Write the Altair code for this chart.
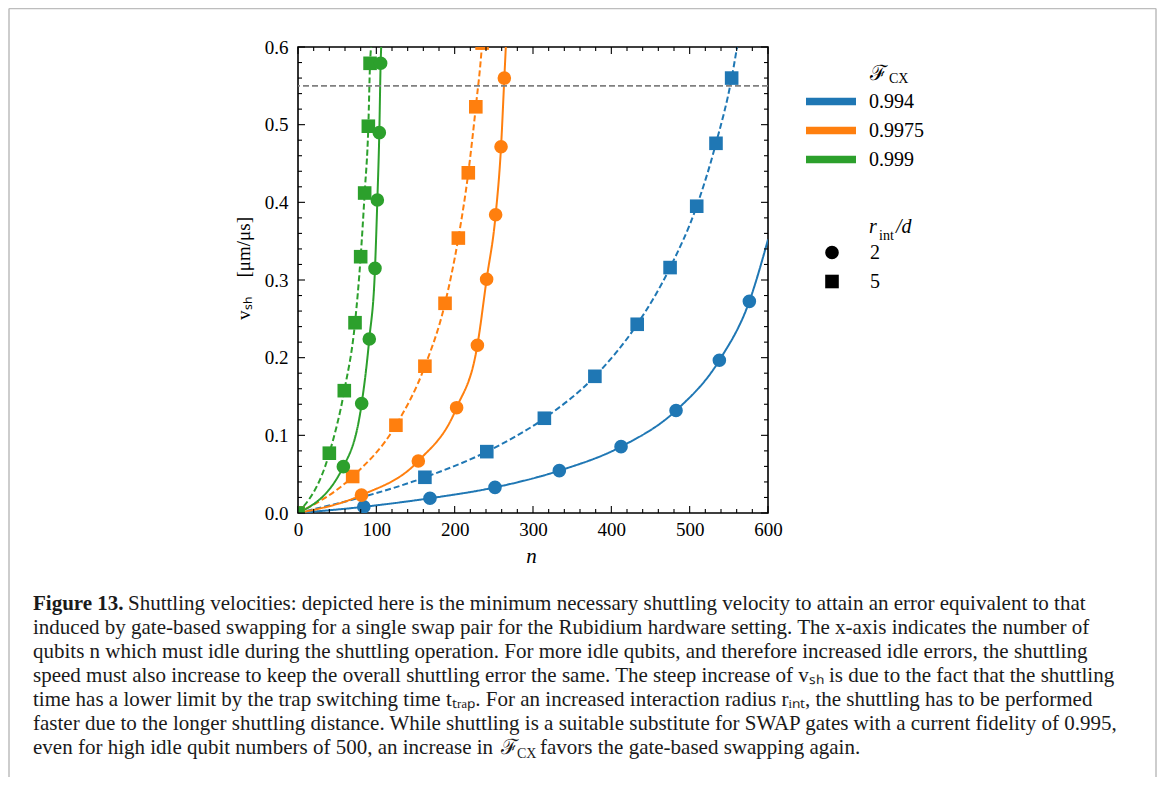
import altair as alt
import pandas as pd

# ---------------- data ----------------
fidelity_labels = ["0.994", "0.9975", "0.999"]
fidelity_colors = ["#1f77b4", "#ff7f0e", "#2ca02c"]
radius_labels = ["2", "5"]

# markers, r_int/d = 2 (circles)
blue_r2_n = [84, 168.5, 251.5, 333.6, 412.4, 482.6, 537.9, 576.2]
blue_r2_v = [0.008, 0.019, 0.033, 0.0545, 0.0854, 0.132, 0.1966, 0.2725]
orange_r2_n = [81, 153.6, 202.5, 229, 240.8, 252.3, 259.2, 263.4]
orange_r2_v = [0.023, 0.067, 0.1356, 0.216, 0.301, 0.384, 0.4716, 0.560]
green_r2_n = [57.9, 81.3, 91, 98.3, 101.3, 103.8, 105.5]
green_r2_v = [0.0597, 0.141, 0.224, 0.315, 0.403, 0.4897, 0.579]

# markers, r_int/d = 5 (squares)
blue_r5_n = [0, 162, 241, 314.5, 379, 433, 475, 509, 533.6, 553.6]
blue_r5_v = [0, 0.046, 0.079, 0.122, 0.176, 0.243, 0.316, 0.395, 0.476, 0.560]
orange_r5_n = [0, 69.8, 125, 162, 187.7, 204.7, 217.4, 227, 235]
orange_r5_v = [0, 0.047, 0.113, 0.189, 0.270, 0.354, 0.438, 0.523, 0.605]
green_r5_n = [0, 40, 59.1, 72.8, 80, 85.1, 89.8, 92]
green_r5_v = [0, 0.077, 0.1575, 0.245, 0.330, 0.412, 0.498, 0.579]

# where each curve leaves the plot
curve_end_n = {"0.994|2": 600, "0.994|5": 560.5, "0.9975|2": 265.3,
               "0.9975|5": 236, "0.999|2": 106.2, "0.999|5": 93.3}
curve_end_v = {"0.994|2": 0.352, "0.994|5": 0.6, "0.9975|2": 0.6,
               "0.9975|5": 0.62, "0.999|2": 0.6, "0.999|5": 0.6}

threshold_v = [0.55]

x_ticks_major = [0, 100, 200, 300, 400, 500, 600]
x_ticks_minor = [v for v in range(0, 601, 20) if v % 100 != 0]
y_ticks_major = [0.0, 0.1, 0.2, 0.3, 0.4, 0.5, 0.6]
y_ticks_minor = [round(0.02 * i, 2) for i in range(31) if i % 5 != 0]

caption_lines = [
    "Shuttling velocities: depicted here is the minimum necessary shuttling velocity to attain an error equivalent to that",
    "induced by gate-based swapping for a single swap pair for the Rubidium hardware setting. The x-axis indicates the number of",
    "qubits n which must idle during the shuttling operation. For more idle qubits, and therefore increased idle errors, the shuttling",
    "speed must also increase to keep the overall shuttling error the same. The steep increase of vₛₕ is due to the fact that the shuttling",
    "time has a lower limit by the trap switching time tₜᵣₐₚ. For an increased interaction radius rᵢₙₜ, the shuttling has to be performed",
    "faster due to the longer shuttling distance. While shuttling is a suitable substitute for SWAP gates with a current fidelity of 0.995,",
    "even for high idle qubit numbers of 500, an increase in",
]

# ---------------- tables ----------------
series = [
    ("0.994", "5", blue_r5_n, blue_r5_v), ("0.994", "2", blue_r2_n, blue_r2_v),
    ("0.9975", "5", orange_r5_n, orange_r5_v), ("0.9975", "2", orange_r2_n, orange_r2_v),
    ("0.999", "5", green_r5_n, green_r5_v), ("0.999", "2", green_r2_n, green_r2_v),
]
mrows, lrows = [], []
k = 0
for f, r, ns, vs in series:
    for n, v in zip(ns, vs):
        mrows.append({"F": f, "r": r, "n": n, "v": v, "k": k}); k += 1
    key = f + "|" + r
    pts = list(zip(ns, vs))
    if pts[0][0] != 0:
        pts = [(0, 0)] + pts
    pts = pts + [(curve_end_n[key], curve_end_v[key])]
    for i, (n, v) in enumerate(pts):
        lrows.append({"F": f, "r": r, "n": n, "v": v, "i": i})
markers = pd.DataFrame(mrows)
curves = pd.DataFrame(lrows)

W, H = 470, 466
SERIF = "Liberation Serif"
CAP = 21

xscale = alt.Scale(domain=[0, 600], nice=False, zero=False)
yscale = alt.Scale(domain=[0, 0.6], nice=False, zero=False)
cscale = alt.Scale(domain=fidelity_labels, range=fidelity_colors)

lines = alt.Chart(curves).mark_line(strokeWidth=2, clip=True, interpolate="monotone").encode(
    x=alt.X("n:Q", scale=xscale,
            axis=alt.Axis(values=x_ticks_major, format="d", ticks=False, domain=False, grid=False,
                          labelFlush=False, labelOverlap=False,
                          labelFont=SERIF, labelFontSize=19, labelPadding=7, labelColor="black",
                          title="n", titleFont=SERIF, titleFontSize=21, titleFontStyle="italic",
                          titleFontWeight="normal", titleColor="black", titleX=233, titleY=49,
                          titleBaseline="alphabetic")),
    y=alt.Y("v:Q", scale=yscale,
            axis=alt.Axis(values=y_ticks_major, format=".1f", ticks=False, domain=False, grid=False,
                          labelFlush=False, labelOverlap=False,
                          labelFont=SERIF, labelFontSize=19, labelPadding=10, labelColor="black",
                          title="vₛₕ\u2003[μm/μs]", titleFont=SERIF, titleFontSize=19,
                          titleFontWeight="normal", titleColor="black", titleX=-55, titleY=221,
                          titleAngle=270, titleBaseline="middle", titleAlign="center")),
    color=alt.Color("F:N", scale=cscale,
                    legend=alt.Legend(orient="none", legendX=504, legendY=40, title=None,
                                      symbolType="stroke", symbolSize=2500, symbolStrokeWidth=7.5,
                                      clipHeight=29, rowPadding=0, padding=0, labelOffset=9,
                                      labelFont=SERIF, labelFontSize=20, labelColor="black")),
    strokeDash=alt.StrokeDash("r:N", scale=alt.Scale(domain=radius_labels, range=[[1, 0], [6, 3]]),
                              legend=None),
    order="i:Q",
)

points = alt.Chart(markers).mark_point(filled=True, size=185, opacity=1, clip=True).encode(
    x=alt.X("n:Q", scale=xscale, axis=None),
    y=alt.Y("v:Q", scale=yscale, axis=None),
    color=alt.Color("F:N", scale=cscale, legend=None),
    shape=alt.Shape("r:N", scale=alt.Scale(domain=radius_labels, range=["circle", "square"]),
                    legend=alt.Legend(orient="none", legendX=524, legendY=191, title=None,
                                      symbolFillColor="black", symbolStrokeColor="black",
                                      symbolStrokeWidth=0, symbolSize=185, clipHeight=29,
                                      rowPadding=0, padding=0, labelOffset=28,
                                      labelFont=SERIF, labelFontSize=20, labelColor="black")),
    order="k:Q",
)

threshold = alt.Chart(pd.DataFrame({"v": threshold_v})).mark_rule(
    color="#808080", strokeWidth=1.6, strokeDash=[6, 3]).encode(
    y=alt.Y("v:Q", scale=yscale, axis=None))


def ticks(values, axis, side, length):
    df = pd.DataFrame({"t": values})
    m = alt.Chart(df).mark_rule(color="black", strokeWidth=1.1)
    if axis == "x":
        y0 = H if side == "bottom" else 0
        y1 = H - length if side == "bottom" else length
        return m.encode(x=alt.X("t:Q", scale=xscale, axis=None), y=alt.value(y0), y2=alt.value(y1))
    x0 = 0 if side == "left" else W
    x1 = length if side == "left" else W - length
    return m.encode(y=alt.Y("t:Q", scale=yscale, axis=None), x=alt.value(x0), x2=alt.value(x1))


tick_layers = []
for side in ["bottom", "top"]:
    tick_layers.append(ticks(x_ticks_major, "x", side, 7))
    tick_layers.append(ticks(x_ticks_minor, "x", side, 4))
for side in ["left", "right"]:
    tick_layers.append(ticks(y_ticks_major, "y", side, 7))
    tick_layers.append(ticks(y_ticks_minor, "y", side, 4))


def label(txt, x, y, size=20, style="normal", weight="normal", font=SERIF, color="black"):
    return alt.Chart(pd.DataFrame({"s": [txt]})).mark_text(
        align="left", baseline="alphabetic", font=font, fontSize=size, fontStyle=style,
        fontWeight=weight, color=color).encode(text="s:N", x=alt.value(x), y=alt.value(y))


# ---------------- legend titles ----------------
legend_titles = [
    label("ℱ", 572, 33, size=21, font="DejaVu Serif"),
    label("CX", 591, 36, size=14),
    label("r", 571, 186, style="italic"),
    label("int", 581, 193, size=14),
    label("/d", 598, 186, style="italic"),
]

# ---------------- caption ----------------
cap = pd.DataFrame({"s": caption_lines, "i": list(range(len(caption_lines)))})
caption = alt.Chart(cap).mark_text(align="left", baseline="alphabetic", font=SERIF, fontSize=CAP,
                                   color="#1a1a1a").transform_calculate(
    px="datum.i == 0 ? -170 : -265", py="563 + 24 * datum.i").encode(
    text="s:N", x=alt.X("px:Q", scale=None, axis=None), y=alt.Y("py:Q", scale=None, axis=None))

cap_extra = [
    label("Figure 13.", -265, 563, size=CAP, weight="bold", color="#1a1a1a"),
    label("ℱ", 203, 707, size=CAP, font="DejaVu Serif", color="#1a1a1a"),
    label("CX", 219, 711, size=14, color="#1a1a1a"),
    label("favors the gate-based swapping again.", 242, 707, size=CAP, color="#1a1a1a"),
]

# ---------------- outer frame ----------------
frame_color = "#bdbdbd"
frame = [
    alt.Chart(pd.DataFrame({"a": [0]})).mark_rule(color=frame_color, strokeWidth=1.5).encode(
        x=alt.value(-289), x2=alt.value(858), y=alt.value(-38.5)),
    alt.Chart(pd.DataFrame({"a": [0]})).mark_rule(color=frame_color, strokeWidth=1.5).encode(
        x=alt.value(-289), y=alt.value(-38.5), y2=alt.value(740)),
    alt.Chart(pd.DataFrame({"a": [0]})).mark_rule(color=frame_color, strokeWidth=1.5).encode(
        x=alt.value(858), y=alt.value(-38.5), y2=alt.value(740)),
]

chart = alt.layer(
    lines, threshold, points, *tick_layers, *legend_titles, caption, *cap_extra, *frame
).resolve_legend(color="independent", shape="independent").resolve_axis(
    x="independent", y="independent").properties(
    width=W, height=H,
    autosize=alt.AutoSizeParams(type="none"),
    padding={"left": 290, "top": 39, "right": 389, "bottom": 264},
    background="white",
).configure_view(stroke="black", strokeWidth=1.6)

chart.save("out.html", embed_options={"renderer": "svg", "actions": False})
